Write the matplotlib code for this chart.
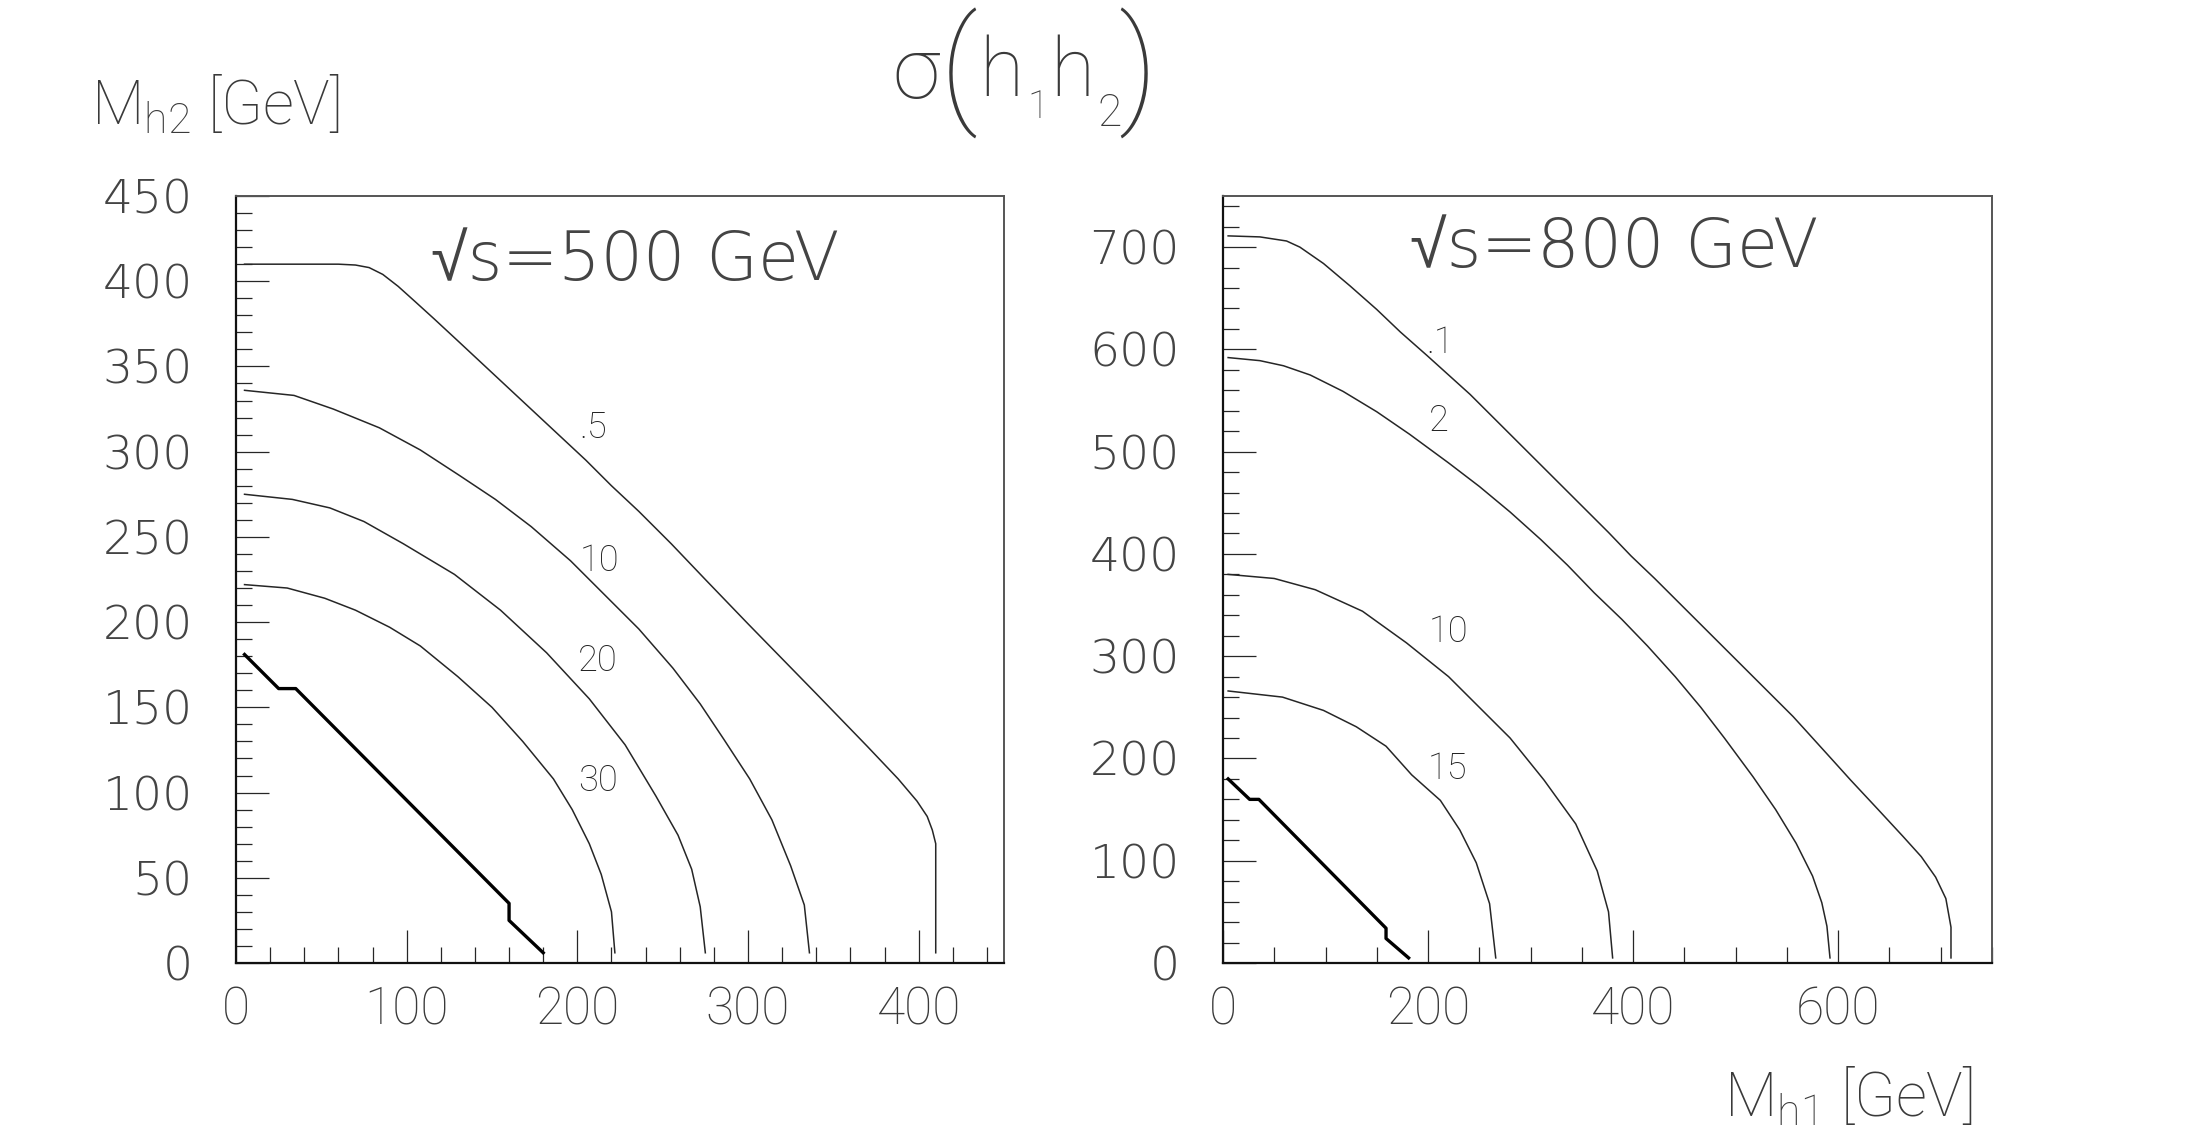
import matplotlib
matplotlib.use("Agg")
import matplotlib.pyplot as plt
from matplotlib.ticker import MultipleLocator

# ---------------- data ----------------
# left panel: sqrt(s) = 500 GeV
l05_x = [5, 30, 60, 70, 78, 86, 95, 105, 116, 130, 145, 160, 175, 190, 205, 220, 236, 255, 275, 300, 340, 370, 388, 399, 405, 408, 410, 410, 410]
l05_y = [410, 410, 410, 409.5, 408, 404, 397, 388, 378, 365, 351, 337, 323, 309, 295, 280, 265, 246, 225, 199, 158, 127, 108, 95, 86, 78, 70, 40, 6]
l10_x = [5, 34, 57, 84, 108, 131, 152, 173, 196, 216, 236, 256, 272, 286, 301, 314, 325, 333, 336]
l10_y = [336, 333, 325, 314, 301, 286, 272, 256, 236, 216, 196, 173, 152, 131, 108, 84, 57, 34, 6]
l20_x = [5, 33, 55, 75, 98, 128, 155, 182, 207, 228, 246, 259, 267, 272, 275]
l20_y = [275, 272, 267, 259, 246, 228, 207, 182, 155, 128, 98, 75, 55, 33, 6]
l30_x = [5, 30, 52, 70, 90, 108, 130, 150, 168, 186, 197, 207, 214, 220, 222]
l30_y = [222, 220, 214, 207, 197, 186, 168, 150, 130, 108, 90, 70, 52, 30, 6]
lb_x = [5, 25, 35, 160, 160, 180]
lb_y = [181, 161, 161, 35, 25, 6]

# right panel: sqrt(s) = 800 GeV
r01_x = [5, 36, 62, 75, 98, 124, 150, 173, 199, 220, 241, 286, 326, 376, 398, 421, 471, 511, 556, 575, 594, 612, 639, 663, 681, 695, 705, 710, 710]
r01_y = [711, 710, 706, 700, 684, 662, 639, 617, 594, 575, 556, 511, 471, 421, 398, 376, 326, 286, 241, 220, 199, 179, 150, 124, 104, 84, 63, 35, 5]
r2_x = [5, 36, 59, 85, 117, 150, 182, 220, 250, 280, 310, 336, 362, 389, 414, 441, 466, 489, 517, 539, 559, 575, 584, 589, 592]
r2_y = [592, 589, 584, 575, 559, 539, 517, 489, 466, 441, 414, 389, 362, 336, 310, 280, 250, 220, 182, 150, 117, 85, 59, 36, 5]
r10_x = [5, 50, 90, 136, 179, 220, 250, 280, 313, 344, 365, 376, 380]
r10_y = [380, 376, 365, 344, 313, 280, 250, 220, 179, 136, 90, 50, 5]
r15_x = [5, 58, 98, 130, 159, 184, 212, 231, 247, 260, 266]
r15_y = [266, 260, 247, 231, 212, 184, 159, 130, 98, 58, 5]
rb_x = [5, 26, 35, 159, 159, 181]
rb_y = [180, 160, 160, 34, 24, 5]

left_labels = [".5", "10", "20", "30"]
left_label_x = [209, 213, 212, 212]
left_label_y = [314, 236, 177, 107]
right_labels = [".1", "2", "10", "15"]
right_label_x = [212, 210, 220, 219]
right_label_y = [606, 530, 324, 190]

left_xticks = [0, 100, 200, 300, 400]
left_yticks = [0, 50, 100, 150, 200, 250, 300, 350, 400, 450]
right_xticks = [0, 200, 400, 600]
right_yticks = [0, 100, 200, 300, 400, 500, 600, 700]

# ---------------- style ----------------
plt.rcParams["mathtext.fontset"] = "custom"
plt.rcParams["mathtext.rm"] = "Roboto:weight=light"
plt.rcParams["mathtext.it"] = "Roboto:weight=light"
plt.rcParams["mathtext.default"] = "rm"

INK = "#262626"
TXT = "#3a3a3a"
W, H = 2200, 1125
fig = plt.figure(figsize=(22, 11.25), dpi=100)
fig.patch.set_facecolor("white")


def px_axes(x0, y0, x1, y1):
    return fig.add_axes([x0 / W, 1 - y1 / H, (x1 - x0) / W, (y1 - y0) / H])


def style_axes(ax, xlim, ylim, xmaj, xmin, ymaj, ymin, xticks, yticks):
    ax.set_xlim(*xlim)
    ax.set_ylim(*ylim)
    ax.xaxis.set_major_locator(MultipleLocator(xmaj))
    ax.xaxis.set_minor_locator(MultipleLocator(xmin))
    ax.yaxis.set_major_locator(MultipleLocator(ymaj))
    ax.yaxis.set_minor_locator(MultipleLocator(ymin))
    ax.set_xticks(xticks)
    ax.set_yticks(yticks)
    ax.set_xticklabels([str(t) for t in xticks], fontfamily="Roboto",
                       fontweight="light", fontsize=37, color=TXT)
    ax.set_yticklabels([str(t) for t in yticks], fontfamily="DejaVu Sans",
                       fontweight="ultralight", fontsize=34, color="#444444")
    ax.tick_params(which="both", direction="in", top=False, right=False,
                   color=INK, width=0.9)
    ax.tick_params(which="major", length=23.5)
    ax.tick_params(which="minor", length=11.5)
    ax.tick_params(axis="x", which="major", pad=16)
    ax.tick_params(axis="y", which="major", pad=31)
    for side in ("left", "bottom"):
        ax.spines[side].set_color("#111111")
        ax.spines[side].set_linewidth(1.6)
    for side in ("top", "right"):
        ax.spines[side].set_color("#555555")
        ax.spines[side].set_linewidth(1.4)


axL = px_axes(236, 196, 1004, 963)
axR = px_axes(1223, 196, 1992, 963)
style_axes(axL, (0, 450), (0, 450), 100, 20, 50, 10, left_xticks, left_yticks)
style_axes(axR, (0, 750), (0, 750), 200, 50, 100, 20, right_xticks, right_yticks)

thin = dict(color=INK, lw=1.1)
bold = dict(color="#000000", lw=2.4)
for xs, ys in [(l05_x, l05_y), (l10_x, l10_y), (l20_x, l20_y), (l30_x, l30_y)]:
    axL.plot(xs, ys, **thin)
axL.plot(lb_x, lb_y, **bold)
for xs, ys in [(r01_x, r01_y), (r2_x, r2_y), (r10_x, r10_y), (r15_x, r15_y)]:
    axR.plot(xs, ys, **thin)
axR.plot(rb_x, rb_y, **bold)

lab = dict(fontfamily="Roboto", fontweight="light", fontsize=26, color="#222222",
           ha="center", va="center")
for t, x, y in zip(left_labels, left_label_x, left_label_y):
    axL.text(x, y, t, **lab)
for t, x, y in zip(right_labels, right_label_x, right_label_y):
    axR.text(x, y, t, **lab)

big = dict(family=["DejaVu Sans", "Liberation Sans", "DejaVu Sans Mono"],
           fontweight="ultralight", fontsize=48, color="#444444", ha="left",
           va="baseline")
axL.text(114.5, 400.7, "\u221as=500 GeV", **big)
axR.text(182.0, 680.6, "\u221as=800 GeV", **big)

# axis titles
mlab = dict(fontfamily="Roboto", fontweight="light", fontsize=44, color=TXT,
            va="baseline", ha="left")
fig.text(91 / W, 1 - 124 / H, r"M$_{\mathrm{h2}}$ [GeV]", **mlab)
fig.text(1724 / W, 1 - 1116 / H, r"M$_{\mathrm{h1}}$ [GeV]", **mlab)

# main title sigma(h1 h2)
tt = dict(fontfamily="Roboto", fontweight="light", color=TXT, ha="left", va="baseline")
fig.text(892 / W, 1 - 98 / H, "\u03c3", fontsize=62, **tt)
fig.text(940 / W, 1 - 110 / H, "(", fontsize=92, **tt)
fig.text(979 / W, 1 - 96 / H, "h", fontsize=58, **tt)
fig.text(1027 / W, 1 - 118 / H, "1", fontsize=28, **tt)
fig.text(1050 / W, 1 - 96 / H, "h", fontsize=58, **tt)
fig.text(1098 / W, 1 - 126 / H, "2", fontsize=32, **tt)
fig.text(1118 / W, 1 - 110 / H, ")", fontsize=92, **tt)

fig.savefig("out.png", dpi=100, facecolor="white")
